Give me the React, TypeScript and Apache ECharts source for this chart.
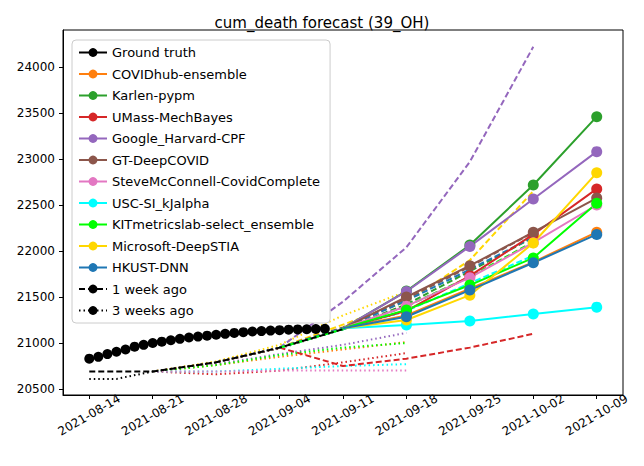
import React, { useEffect, useRef } from "react";
import * as echarts from "echarts";

const BASE = Date.UTC(2021, 7, 14);
const tickDays = [0, 7, 14, 21, 28, 35, 42, 49, 56];
const yTicks = [20500, 21000, 21500, 22000, 22500, 23000, 23500, 24000];

const gtDays = Array.from({ length: 27 }, (_, i) => i);
const gtValues = [20830, 20850, 20880, 20905, 20930, 20960, 20980, 21000, 21015, 21030, 21045, 21060, 21070, 21080, 21090, 21100, 21110, 21118, 21125, 21130, 21135, 21140, 21145, 21148, 21150, 21152, 21155];

const wk1Days = [0, 7, 14, 21, 28];
const wk1Values = [20690, 20690, 20790, 20950, 21150];
const wk3Days = [0, 3, 7, 14, 21];
const wk3Values = [20610, 20610, 20690, 20790, 20950];

const forecastStart = [28, 21160];
const forecastDays = [35, 42, 49, 56];
const models = ["COVIDhub-ensemble", "Karlen-pypm", "UMass-MechBayes", "Google_Harvard-CPF", "GT-DeepCOVID", "SteveMcConnell-CovidComplete", "USC-SI_kJalpha", "KITmetricslab-select_ensemble", "Microsoft-DeepSTIA", "HKUST-DNN"];
const colors = ["#ff7f0e", "#2ca02c", "#d62728", "#9467bd", "#8c564b", "#e377c2", "#00ffff", "#00ff00", "#ffd700", "#1f77b4"];
const solidValues = [
  [21300, 21590, 21880, 22205],
  [21565, 22065, 22717, 23460],
  [21350, 21730, 22180, 22675],
  [21560, 22050, 22565, 23080],
  [21500, 21840, 22205, 22575],
  [21400, 21710, 22090, 22500],
  [21195, 21240, 21315, 21390],
  [21360, 21630, 21925, 22520],
  [21250, 21520, 22087, 22850],
  [21285, 21575, 21872, 22180],
];

const dashDays = [21, 28, 35, 42, 49];
const dashModels = [3, 8, 2, 1, 4, 9, 6, 7];
const dashValues = [
  [20950, 21450, 22040, 22970, 24220],
  [20950, 21200, 21450, 21900, 22650],
  [20950, 20750, 20830, 20950, 21100],
  [20950, 21150, 21420, 21780, 22150],
  [20950, 21170, 21480, 21830, 22200],
  [20950, 21160, 21460, 21800, 22150],
  [20950, 21150, 21350, 21650, 21950],
  [20950, 21150, 21400, 21720, 22100],
];

const dotDays = [7, 14, 21, 28, 35];
const dotModels = [8, 4, 3, 0, 7, 2, 6, 5];
const dotValues = [
  [20690, 20800, 20980, 21300, 21560],
  [20690, 20790, 20940, 21150, 21350],
  [20690, 20770, 20880, 20980, 21110],
  [20690, 20760, 20850, 20930, 21010],
  [20690, 20760, 20870, 20950, 21000],
  [20690, 20660, 20700, 20790, 20890],
  [20690, 20690, 20720, 20750, 20770],
  [20690, 20690, 20700, 20700, 20700],
];

const fmtDay = (d: number) => {
  const t = new Date(BASE + d * 86400000);
  const p = (n: number) => String(n).padStart(2, "0");
  return `${t.getUTCFullYear()}-${p(t.getUTCMonth() + 1)}-${p(t.getUTCDate())}`;
};

export default function App() {
  const ref = useRef<HTMLDivElement>(null);
  useEffect(() => {
    const chart = echarts.init(ref.current!, null, { renderer: "svg" });
    const zip = (xs: number[], ys: number[]) => xs.map((x, i) => [x, ys[i]]);
    const series: any[] = [];
    dotModels.forEach((m, i) =>
      series.push({ type: "line", data: zip(dotDays, dotValues[i]), symbol: "none", lineStyle: { color: colors[m], type: [1.5, 3], width: 2 }, z: 1, silent: true })
    );
    dashModels.forEach((m, i) =>
      series.push({ type: "line", data: zip(dashDays, dashValues[i]), symbol: "none", lineStyle: { color: colors[m], type: [6, 3], width: 2 }, z: 2, silent: true })
    );
    series.push({ type: "line", data: zip(wk3Days, wk3Values), symbol: "none", lineStyle: { color: "#000", type: [1.5, 3], width: 2 }, z: 2 });
    series.push({ type: "line", data: zip(wk1Days, wk1Values), symbol: "none", lineStyle: { color: "#000", type: [6, 3], width: 2 }, z: 2 });
    series.push({ name: "Ground truth", type: "line", data: zip(gtDays, gtValues), symbol: "circle", symbolSize: 10, itemStyle: { color: "#000" }, lineStyle: { color: "#000", width: 1.5 }, z: 3 });
    models.forEach((name, i) =>
      series.push({
        name, type: "line", symbol: "circle", symbolSize: 11,
        itemStyle: { color: colors[i] }, lineStyle: { color: colors[i], width: 2 }, z: 4,
        data: [{ value: forecastStart, symbol: "none" }, ...zip(forecastDays, solidValues[i])],
      })
    );
    series.push({ name: "1 week ago", type: "line", data: [], symbol: "none", itemStyle: { color: "#000" }, lineStyle: { color: "#000", type: [6, 3], width: 2 } });
    series.push({ name: "3 weeks ago", type: "line", data: [], symbol: "none", itemStyle: { color: "#000" }, lineStyle: { color: "#000", type: [1.5, 3], width: 2 } });

    chart.setOption({
      animation: false,
      textStyle: { fontFamily: "DejaVu Sans" },
      title: { text: "cum_death forecast (39_OH)", left: "center", top: 2, textStyle: { fontSize: 15, fontWeight: "normal", color: "#000" } },
      grid: { left: 55, right: 13, top: 22, bottom: 63, show: true, borderColor: "#000", borderWidth: 1 },
      legend: {
        data: ["Ground truth", ...models, "1 week ago", "3 weeks ago"],
        orient: "vertical", left: 64, top: 32, itemGap: 8.5, itemWidth: 28, itemHeight: 11,
        backgroundColor: "#fff", borderColor: "#ccc", borderWidth: 1, borderRadius: 4, padding: [6, 10, 6, 6],
        textStyle: { fontSize: 13, color: "#000" },
      },
      xAxis: {
        type: "value", min: -2.9, max: 58.9,
        splitLine: { show: false },
        axisLine: { onZero: false, lineStyle: { color: "#000" } },
        axisTick: { customValues: tickDays, lineStyle: { color: "#000" }, length: 4 },
        axisLabel: { customValues: tickDays, formatter: (v: number) => fmtDay(v), rotate: 30, align: "center", verticalAlign: "middle", margin: 20, color: "#000", fontSize: 12 },
      },
      yAxis: {
        type: "value", min: 20435, max: 24402,
        splitLine: { show: false },
        axisLine: { show: true, onZero: false, lineStyle: { color: "#000" } },
        axisTick: { show: true, customValues: yTicks, lineStyle: { color: "#000" }, length: 4 },
        axisLabel: { customValues: yTicks, formatter: (v: number) => String(v), color: "#000", fontSize: 12 },
      },
      series,
    });
    return () => chart.dispose();
  }, []);
  return <div ref={ref} style={{ width: 628, height: 450 }} />;
}
